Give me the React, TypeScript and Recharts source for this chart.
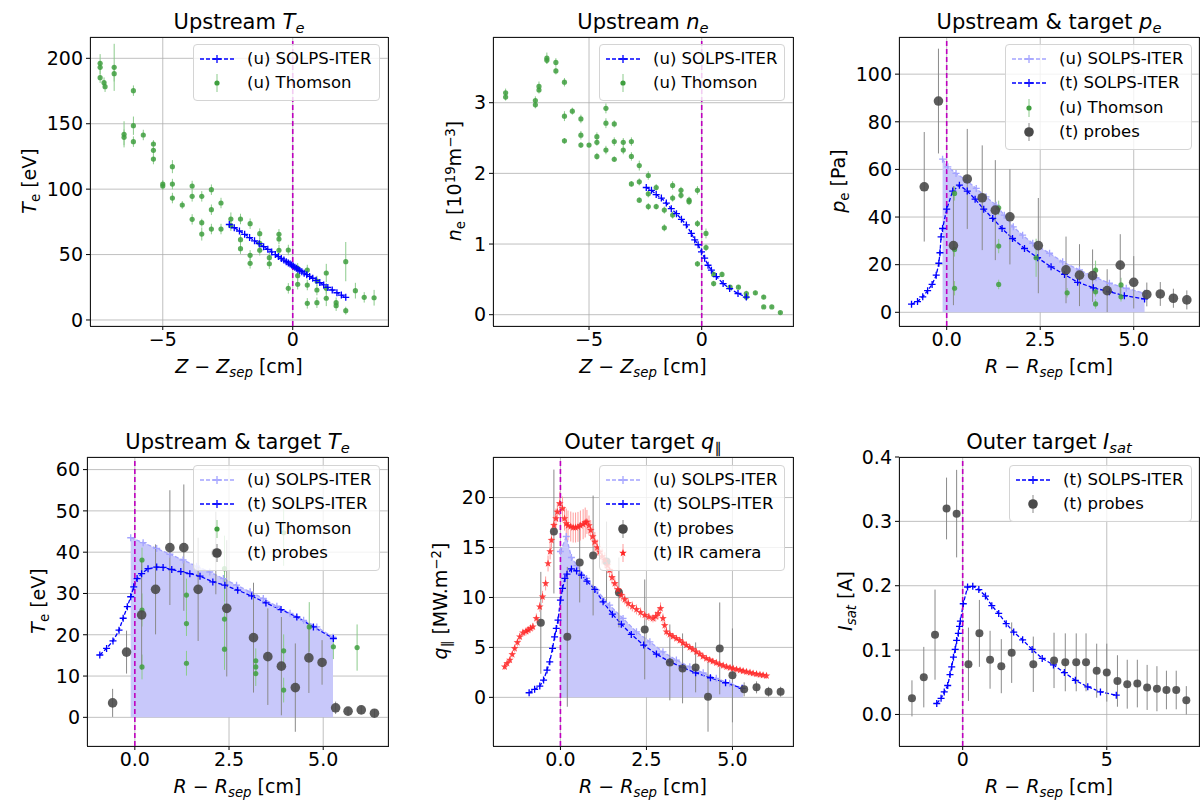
import React from 'react';
import {
  ComposedChart,
  Line,
  Scatter,
  Area,
  XAxis,
  YAxis,
  CartesianGrid,
  ReferenceLine,
  ErrorBar,
} from 'recharts';

// ---- data (x, y[, err]) ----

// Upstream Te
const upTeSolps = [
  [-2.44, 73], [-2.25, 70.5], [-2.05, 68], [-1.85, 65.5], [-1.66, 63], [-1.47, 60.5], [-1.29, 58.3],
  [-1.12, 56], [-0.96, 54], [-0.81, 52], [-0.67, 50], [-0.55, 48.5], [-0.44, 47], [-0.34, 45.8],
  [-0.25, 44.6], [-0.17, 43.6], [-0.1, 42.7], [-0.04, 42], [0.02, 41.2], [0.08, 40.4], [0.14, 39.6],
  [0.2, 38.8], [0.27, 37.9], [0.35, 36.9], [0.44, 35.8], [0.54, 34.6], [0.65, 33.3], [0.77, 31.9],
  [0.9, 30.3], [1.04, 28.6], [1.19, 26.8], [1.35, 24.9], [1.52, 22.9], [1.7, 20.8], [1.87, 19], [2.04, 17.3],
];
const upTeThomson = [
  [-7.41, 196.2, 7], [-7.41, 193.1, 5], [-7.41, 185.2, 4], [-7.26, 181.4, 4], [-7.22, 178.3, 4],
  [-6.87, 193.1, 18], [-6.87, 188.3, 6], [-6.13, 175.3, 4], [-6.49, 141.9, 10], [-6.49, 139.6, 6],
  [-6.13, 148.5, 7], [-6.13, 136.3, 4], [-5.75, 141.4, 4], [-5.36, 134.5, 3], [-5.36, 129.7, 3],
  [-5.36, 123.0, 4], [-5.0, 103.9, 3], [-5.0, 102.4, 3], [-4.63, 117.2, 5], [-4.63, 103.9, 4],
  [-4.63, 93.2, 4], [-4.25, 87.9, 3], [-3.87, 102.4, 4], [-3.87, 94.5, 4], [-3.87, 76.9, 4],
  [-3.5, 94.5, 4], [-3.5, 74.4, 3], [-3.5, 65.7, 5], [-3.13, 99.6, 4], [-3.13, 84.3, 4],
  [-3.13, 69.5, 4], [-2.76, 89.4, 4], [-2.76, 69.5, 4], [-2.38, 77.2, 5], [-2.38, 72.1, 4],
  [-2.01, 77.2, 4], [-2.01, 61.4, 4], [-2.01, 54.5, 4], [-1.64, 73.6, 4], [-1.64, 49.4, 4],
  [-1.64, 43.3, 4], [-1.27, 66.0, 4], [-1.27, 58.6, 4], [-1.27, 53.3, 4], [-0.9, 47.6, 4],
  [-0.9, 43.0, 4], [-0.53, 65.5, 4], [-0.53, 61.9, 4], [-0.53, 53.3, 4], [-0.17, 53.5, 4],
  [-0.17, 24.2, 4], [0.19, 39.5, 4], [0.19, 33.9, 4], [0.19, 27.3, 4], [0.56, 38.2, 4],
  [0.56, 26.7, 4], [0.56, 12.7, 4], [0.93, 29.8, 4], [0.93, 22.9, 4], [0.93, 13.2, 4],
  [1.29, 35.9, 7], [1.29, 24.2, 4], [1.29, 16.6, 6], [1.67, 13.2, 4], [1.67, 10.9, 4],
  [2.04, 44.6, 15], [2.04, 7.1, 3], [2.41, 22.4, 6], [2.75, 17.3, 4], [3.13, 17, 6],
];

// Upstream ne
const upNeSolps = [
  [-2.46, 1.8], [-2.23, 1.76], [-2.02, 1.7], [-1.79, 1.65], [-1.57, 1.58], [-1.35, 1.5], [-1.12, 1.43],
  [-0.9, 1.35], [-0.68, 1.27], [-0.46, 1.15], [-0.31, 1.06], [-0.16, 0.99], [-0.01, 0.89], [0.13, 0.8],
  [0.28, 0.7], [0.43, 0.63], [0.65, 0.54], [0.95, 0.44], [1.24, 0.37], [1.61, 0.3], [1.98, 0.25],
];
const upNeThomson = [
  [-8.7, 3.14, 0.06], [-8.7, 3.08, 0.05], [-7.38, 3.03, 0.06], [-7.38, 2.97, 0.05], [-7.22, 3.23, 0.07],
  [-7.22, 3.18, 0.05], [-6.87, 3.63, 0.08], [-6.87, 3.6, 0.05], [-6.47, 3.57, 0.06], [-6.47, 3.45, 0.05],
  [-6.09, 3.29, 0.06], [-6.09, 2.81, 0.07], [-6.09, 2.46, 0.04], [-5.74, 2.88, 0.05], [-5.36, 2.77, 0.06],
  [-5.36, 2.54, 0.06], [-5.36, 2.4, 0.04], [-5.0, 2.4, 0.03], [-4.65, 2.52, 0.06], [-4.65, 2.44, 0.05],
  [-4.65, 2.24, 0.05], [-4.25, 2.92, 0.07], [-4.25, 2.71, 0.07], [-4.25, 2.33, 0.06], [-3.88, 2.7, 0.05],
  [-3.88, 2.45, 0.06], [-3.88, 2.2, 0.04], [-3.48, 2.44, 0.06], [-3.48, 2.33, 0.06], [-3.12, 2.45, 0.06],
  [-3.12, 2.24, 0.06], [-2.77, 2.11, 0.07], [-3.12, 1.85, 0.04], [-2.77, 1.88, 0.05], [-2.77, 1.62, 0.04],
  [-2.37, 1.97, 0.06], [-2.37, 1.71, 0.05], [-2.37, 1.53, 0.05], [-2.02, 1.8, 0.05], [-2.02, 1.53, 0.04],
  [-1.66, 1.48, 0.05], [-1.66, 1.23, 0.05], [-1.29, 1.83, 0.06], [-1.29, 1.65, 0.05], [-1.29, 1.41, 0.05],
  [-0.92, 1.76, 0.05], [-0.92, 1.69, 0.05], [-0.56, 1.62, 0.05], [-0.56, 1.6, 0.05], [-0.19, 1.76, 0.06],
  [-0.19, 1.29, 0.05], [-0.19, 0.72, 0.04], [0.19, 1.15, 0.07], [0.19, 0.95, 0.05], [0.53, 0.57, 0.04],
  [0.53, 0.44, 0.04], [0.9, 0.57, 0.04], [1.26, 0.39, 0.03], [1.63, 0.39, 0.03], [1.98, 0.3, 0.04],
  [1.98, 0.25, 0.03], [2.38, 0.31, 0.03], [2.75, 0.25, 0.03], [2.75, 0.11, 0.02], [3.11, 0.11, 0.02],
  [3.49, 0.03, 0.02],
];

// Upstream & target pe
const peUpSolps = [
  [-0.11, 64.3], [0.03, 61.1], [0.25, 58.3], [0.52, 55.5], [0.79, 52.0], [1.05, 48.5], [1.32, 45.0],
  [1.54, 40.8], [1.78, 35.9], [2.03, 32.4], [2.3, 29.0], [2.75, 24.8], [3.1, 21.2], [3.55, 17.8],
  [3.99, 14.5], [4.35, 12.2], [4.8, 10.1], [5.29, 8.0],
];
const peTgtSolps = [
  [-0.94, 3.4], [-0.78, 4.5], [-0.64, 6.5], [-0.51, 9.1], [-0.39, 11.7], [-0.28, 15.6], [-0.21, 20.6],
  [-0.18, 25.0], [-0.15, 31.7], [-0.11, 35.2], [0.0, 43.3], [0.16, 50.9], [0.34, 53.4], [0.55, 50.9],
  [0.76, 47.5], [0.99, 43.3], [1.23, 39.4], [1.48, 35.2], [1.76, 31.0], [2.08, 26.8], [2.43, 22.9],
  [2.79, 19.1], [3.15, 15.9], [3.5, 12.6], [3.92, 10.3], [4.35, 8.6], [4.75, 7.0], [5.29, 5.6],
];
const peThomson = [
  [0.21, 49.9, 3], [0.21, 26.4, 3], [0.21, 10.1, 3], [1.39, 43.9, 3], [1.39, 27.8, 3], [1.39, 11.7, 2],
  [2.39, 22.9, 8], [3.22, 8.2, 2], [3.98, 17.7, 4], [3.98, 8.6, 2], [3.98, 3.5, 2], [4.66, 11.5, 3],
  [4.66, 6.5, 2],
];
const peProbes = [
  [-0.6, 52.7, 23], [-0.22, 88.7, 22], [0.18, 28, 25], [0.55, 56, 21], [0.95, 48.1, 22], [1.3, 42.9, 21],
  [1.69, 40.1, 20], [2.45, 28, 20], [3.19, 17.8, 14], [3.55, 15.6, 13], [3.9, 15.4, 11], [4.29, 9.1, 9],
  [4.64, 19.8, 13], [5.0, 12.6, 11], [5.35, 7.5, 5], [5.71, 7.7, 5], [6.06, 5.9, 4], [6.42, 5.2, 4],
];

// Upstream & target Te
const teUpSolps = [
  [-0.11, 43.5], [0.22, 42.3], [0.58, 40.9], [0.93, 39.5], [1.28, 38.1], [1.64, 36.6], [1.99, 35.2],
  [2.35, 33.6], [2.7, 32.0], [3.06, 30.4], [3.41, 28.8], [3.77, 26.9], [4.12, 25.2], [4.48, 23.5],
  [4.83, 21.9], [5.26, 19.4],
];
const teTgtSolps = [
  [-0.93, 15.1], [-0.75, 16.7], [-0.58, 18.5], [-0.42, 21.1], [-0.31, 24.0], [-0.2, 26.8], [-0.11, 29.2],
  [-0.03, 31.6], [0.06, 33.6], [0.18, 34.8], [0.35, 36.0], [0.58, 36.4], [0.75, 36.3], [0.98, 35.8],
  [1.22, 35.3], [1.46, 34.8], [1.73, 34.2], [2.07, 32.8], [2.39, 32.0], [2.73, 30.8], [3.1, 29.4],
  [3.48, 27.7], [3.88, 26.1], [4.3, 24.3], [4.74, 21.9], [5.27, 19.1],
];
const teThomson = [
  [0.19, 38.1, 3], [0.19, 26.0, 4], [0.19, 12.2, 3], [1.37, 29.6, 4], [1.37, 22.7, 3], [1.37, 13.1, 3],
  [2.38, 36.0, 8], [2.38, 23.8, 4], [2.38, 16.5, 5], [3.21, 13.7, 3], [3.21, 12.2, 2], [3.21, 10.6, 3],
  [3.95, 44.7, 8], [3.95, 16.1, 4], [3.95, 6.6, 3], [4.63, 21.9, 6], [5.27, 17.1, 3], [5.9, 16.9, 5.6],
];
const teProbes = [
  [-0.59, 3.5, 3.4], [-0.22, 15.8, 5.2], [0.18, 24.8, 13.3], [0.55, 31.0, 10.9], [0.93, 41.1, 13.9],
  [1.3, 41.1, 15.3], [1.68, 31.0, 12.5], [2.15, 39.8, 10], [2.44, 26.4, 16.5], [3.15, 19.3, 13.3],
  [3.53, 14.7, 11.7], [3.89, 12.4, 11.9], [4.26, 7.2, 10.7], [4.62, 14.4, 8.5], [4.97, 13.3, 5.4],
  [5.33, 2.3, 1.5], [5.66, 1.5, 1], [6.01, 1.8, 1], [6.36, 1.0, 1],
];

// Outer target q_par
const qUpSolps = [
  [0.0, 14.6], [0.17, 16.1], [0.32, 14.0], [0.48, 13.2], [0.76, 11.9], [1.05, 10.73], [1.43, 9.23],
  [1.82, 7.9], [2.21, 6.56], [2.6, 5.56], [2.98, 4.56], [3.37, 3.73], [3.76, 3.06], [4.15, 2.46],
  [4.53, 1.9], [4.92, 1.4], [5.31, 0.9],
];
const qTgtSolps = [
  [-0.91, 0.46], [-0.75, 0.8], [-0.6, 1.13], [-0.49, 1.73], [-0.39, 2.73], [-0.31, 3.56], [-0.23, 4.9],
  [-0.17, 6.06], [-0.12, 6.9], [-0.07, 7.73], [0.0, 9.73], [0.06, 10.9], [0.13, 11.9], [0.19, 12.33],
  [0.32, 12.86], [0.47, 12.66], [0.61, 12.23], [0.77, 11.63], [1.0, 10.8], [1.24, 9.56], [1.51, 8.33],
  [1.77, 7.33], [2.06, 6.3], [2.42, 5.23], [2.79, 4.33], [3.18, 3.56], [3.55, 3.0], [3.93, 2.46],
  [4.36, 1.96], [4.8, 1.46], [5.28, 0.9],
];
const qProbes = [
  [-0.57, 7.46, 5.1], [-0.19, 16.6, 6.2], [0.2, 6.06, 7], [0.56, 13.5, 4], [0.95, 14.2, 6], [1.34, 13.6, 4],
  [1.7, 10.5, 3.5], [2.45, 6.8, 5], [3.18, 3.5, 3.8], [3.55, 2.9, 3.5], [3.93, 3.0, 2.5], [4.29, 0.06, 3.5],
  [4.63, 4.9, 4.6], [5.0, 2.2, 4.7], [5.34, 0.8, 0.7], [5.7, 1.0, 0.6], [6.05, 0.56, 0.5], [6.4, 0.56, 0.5],
];
const qIrCamera = [
  [-1.62, 3.06, 0.3], [-1.55, 3.4, 0.3], [-1.47, 3.73, 0.3], [-1.4, 4.3, 0.3], [-1.33, 4.9, 0.4],
  [-1.25, 5.5, 0.4], [-1.18, 6.06, 0.4], [-1.09, 6.46, 0.4], [-1.0, 6.6, 0.4], [-0.94, 6.73, 0.4],
  [-0.87, 6.9, 0.4], [-0.8, 7.06, 0.4], [-0.7, 7.9, 0.5], [-0.6, 9.06, 0.5], [-0.52, 10.06, 0.6],
  [-0.43, 11.4, 0.7], [-0.36, 13.4, 0.8], [-0.3, 14.6, 0.8], [-0.26, 15.73, 0.9], [-0.19, 17.23, 1],
  [-0.13, 17.9, 1], [-0.09, 18.56, 1], [-0.02, 19.4, 1.2], [0.06, 18.9, 1.2], [0.12, 17.9, 1.2],
  [0.17, 17.4, 1.5], [0.22, 17.2, 1.5], [0.3, 17.1, 1.5], [0.37, 17.0, 1.5], [0.44, 17.0, 1.5],
  [0.51, 17.06, 1.5], [0.58, 17.2, 1.5], [0.66, 17.33, 1.5], [0.72, 17.5, 1.5], [0.77, 17.56, 1.2],
  [0.83, 17.2, 1], [0.88, 16.73, 1], [0.94, 16.1, 1], [1.0, 15.56, 1], [1.07, 15.0, 0.8],
  [1.14, 14.56, 0.8], [1.21, 14.1, 0.8], [1.29, 13.73, 0.8], [1.36, 13.2, 0.7], [1.43, 12.73, 0.7],
  [1.5, 12.0, 0.7], [1.58, 11.4, 0.6], [1.67, 10.8, 0.6], [1.77, 10.23, 0.6], [1.87, 9.8, 0.5],
  [1.97, 9.4, 0.5], [2.09, 9.1, 0.5], [2.21, 8.8, 0.5], [2.33, 8.5, 0.5], [2.45, 8.23, 0.5],
  [2.57, 8.05, 0.4], [2.69, 7.9, 0.4], [2.77, 8.1, 0.5], [2.84, 8.4, 0.6], [2.91, 8.9, 0.6],
  [2.98, 7.9, 0.5], [3.03, 7.2, 0.4], [3.08, 6.56, 0.4], [3.18, 6.3, 0.4], [3.27, 6.1, 0.3],
  [3.37, 5.9, 0.3], [3.47, 5.7, 0.3], [3.56, 5.45, 0.3], [3.66, 5.23, 0.3], [3.76, 5.0, 0.3],
  [3.85, 4.8, 0.3], [3.95, 4.56, 0.3], [4.05, 4.35, 0.3], [4.14, 4.1, 0.3], [4.24, 3.9, 0.3],
  [4.34, 3.75, 0.3], [4.43, 3.6, 0.3], [4.53, 3.46, 0.3], [4.63, 3.3, 0.3], [4.73, 3.18, 0.3],
  [4.83, 3.06, 0.3], [4.93, 2.97, 0.3], [5.02, 2.88, 0.3], [5.12, 2.8, 0.3], [5.22, 2.72, 0.3],
  [5.31, 2.64, 0.3], [5.41, 2.56, 0.3], [5.51, 2.48, 0.3], [5.6, 2.4, 0.3], [5.7, 2.33, 0.3],
  [5.8, 2.27, 0.3], [5.89, 2.22, 0.3], [5.99, 2.16, 0.3],
];

// Outer target Isat
const isatSolps = [
  [-0.9, 0.017], [-0.75, 0.025], [-0.64, 0.035], [-0.52, 0.045], [-0.44, 0.062], [-0.38, 0.074],
  [-0.32, 0.089], [-0.26, 0.101], [-0.21, 0.115], [-0.15, 0.126], [-0.11, 0.137], [-0.08, 0.145],
  [0.02, 0.172], [0.17, 0.198], [0.35, 0.199], [0.56, 0.194], [0.79, 0.184], [1.01, 0.169],
  [1.25, 0.157], [1.51, 0.141], [1.77, 0.128], [2.08, 0.116], [2.41, 0.101], [2.76, 0.087],
  [3.15, 0.077], [3.53, 0.065], [3.91, 0.053], [4.34, 0.043], [4.78, 0.035], [5.33, 0.03],
];
const isatProbes = [
  [-1.76, 0.025, 0.028], [-1.35, 0.058, 0.047], [-0.96, 0.124, 0.07], [-0.56, 0.32, 0.048],
  [-0.21, 0.312, 0.068], [0.2, 0.078, 0.057], [0.58, 0.126, 0.052], [0.95, 0.085, 0.045],
  [1.34, 0.075, 0.042], [1.7, 0.096, 0.047], [2.45, 0.078, 0.043], [3.17, 0.084, 0.043],
  [3.56, 0.081, 0.045], [3.94, 0.081, 0.045], [4.28, 0.081, 0.045], [4.65, 0.068, 0.042],
  [5.0, 0.065, 0.045], [5.37, 0.052, 0.04], [5.71, 0.047, 0.038], [6.06, 0.048, 0.037],
  [6.4, 0.042, 0.035], [6.74, 0.04, 0.035], [7.07, 0.038, 0.03], [7.41, 0.038, 0.03], [7.76, 0.022, 0.022],
];

// tick values
const zTicks = [-5, 0];
const rTicks = [0, 2.5, 5];
const rTicksWide = [0, 5];
const teUpTicks = [0, 50, 100, 150, 200];
const neTicks = [0, 1, 2, 3];
const peTicks = [0, 20, 40, 60, 80, 100];
const teTicks = [0, 10, 20, 30, 40, 50, 60];
const qTicks = [0, 5, 10, 15, 20];
const isatTicks = [0, 0.1, 0.2, 0.3, 0.4];

// ---- styling ----
const FONT = '"DejaVu Sans", sans-serif';
const BLUE = '#0000ff';
const LIGHT = '#a4a4ff';
const FILL = '#c8c8fa';
const GREEN = '#3f9f3f';
const GREEN_BAR = '#8ccb8c';
const PROBE = '#4a4a4a';
const PROBE_BAR = '#8a8a8a';
const RED = '#ff2424';
const RED_BAR = '#ff9c9c';
const MAGENTA = '#bf00bf';

const pts = (rows: number[][]) => rows.map(([x, y, err]) => ({ x, y, err: err ?? 0 }));

const minus = (s: string) => s.replace('-', '\u2212');
const fmtInt = (v: number) => minus(String(v));
const fmt1 = (v: number) => minus(v.toFixed(1));

const plusDot = (color: string, s = 3.5) => (p: any) => {
  if (p.cx == null || p.cy == null || isNaN(p.cx) || isNaN(p.cy)) return <g key={p.index} />;
  return (
    <path
      key={p.index}
      d={`M${p.cx - s},${p.cy}H${p.cx + s}M${p.cx},${p.cy - s}V${p.cy + s}`}
      stroke={color}
      strokeWidth={1.3}
      fill="none"
    />
  );
};

const circleShape = (r: number, fill: string, op = 1) => (p: any) => (
  <circle cx={p.cx} cy={p.cy} r={r} fill={fill} fillOpacity={op} />
);

const starPath = (cx: number, cy: number, R: number) => {
  let d = '';
  for (let i = 0; i < 10; i++) {
    const r = i % 2 === 0 ? R : R * 0.42;
    const a = -Math.PI / 2 + (i * Math.PI) / 5;
    d += (i ? 'L' : 'M') + (cx + r * Math.cos(a)).toFixed(2) + ',' + (cy + r * Math.sin(a)).toFixed(2);
  }
  return d + 'Z';
};
const starShape = (R: number, fill: string) => (p: any) => (
  <path d={starPath(p.cx, p.cy, R)} fill={fill} fillOpacity={0.85} />
);

interface Frame {
  left: number;
  top: number;
  width: number;
  height: number;
}

const YW = 60;
const MT = 14;
const MR = 6;
const XH = 34;
const tickStyle = { fill: '#000', fontSize: 19, fontFamily: FONT };

function Panel(props: {
  frame: Frame;
  xDomain: [number, number];
  yDomain: [number, number];
  xTicks: number[];
  yTicks: number[];
  fmtX: (v: number) => string;
  fmtY: (v: number) => string;
  children: React.ReactNode;
}) {
  const { frame, xDomain, yDomain, xTicks, yTicks, fmtX, fmtY, children } = props;
  return (
    <div style={{ position: 'absolute', left: frame.left - YW, top: frame.top - MT }}>
      <ComposedChart
        width={frame.width + YW + MR}
        height={frame.height + MT + XH}
        margin={{ top: MT, right: MR, bottom: 0, left: 0 }}
      >
        <CartesianGrid stroke="#b0b0b0" strokeWidth={0.8} />
        <XAxis
          type="number"
          dataKey="x"
          domain={xDomain}
          ticks={xTicks}
          interval={0}
          allowDataOverflow
          height={XH}
          axisLine={false}
          tickLine={{ stroke: '#000' }}
          tickSize={4}
          tickMargin={3}
          tick={tickStyle}
          tickFormatter={fmtX}
        />
        <YAxis
          type="number"
          domain={yDomain}
          ticks={yTicks}
          interval={0}
          allowDataOverflow
          width={YW}
          axisLine={false}
          tickLine={{ stroke: '#000' }}
          tickSize={4}
          tickMargin={3}
          tick={tickStyle}
          tickFormatter={fmtY}
        />
        {children}
        <ReferenceLine x={0} stroke={MAGENTA} strokeWidth={1.6} strokeDasharray="5 3" />
      </ComposedChart>
    </div>
  );
}

const Sub = ({ children }: { children: React.ReactNode }) => (
  <span style={{ fontSize: '0.7em', position: 'relative', top: '0.3em', lineHeight: 0 }}>{children}</span>
);
const Sup = ({ children }: { children: React.ReactNode }) => (
  <span style={{ fontSize: '0.7em', position: 'relative', top: '-0.45em', lineHeight: 0 }}>{children}</span>
);

function Title({ frame, children }: { frame: Frame; children: React.ReactNode }) {
  return (
    <div
      style={{
        position: 'absolute',
        left: frame.left,
        width: frame.width,
        top: frame.top - 25,
        textAlign: 'center',
        fontSize: 21,
        lineHeight: '21px',
        whiteSpace: 'nowrap',
      }}
    >
      {children}
    </div>
  );
}

function XLabel({ frame, children }: { frame: Frame; children: React.ReactNode }) {
  return (
    <div
      style={{
        position: 'absolute',
        left: frame.left,
        width: frame.width,
        top: frame.top + frame.height + 31,
        textAlign: 'center',
        fontSize: 19,
        lineHeight: '19px',
        whiteSpace: 'nowrap',
      }}
    >
      {children}
    </div>
  );
}

function YLabel({ cx, cy, children }: { cx: number; cy: number; children: React.ReactNode }) {
  return (
    <div
      style={{
        position: 'absolute',
        left: cx,
        top: cy,
        transform: 'translate(-50%, -50%) rotate(-90deg)',
        fontSize: 19,
        lineHeight: '22px',
        whiteSpace: 'nowrap',
      }}
    >
      {children}
    </div>
  );
}

function FrameBox({ frame }: { frame: Frame }) {
  return (
    <div
      style={{
        position: 'absolute',
        left: frame.left,
        top: frame.top,
        width: frame.width + 1,
        height: frame.height + 1,
        boxSizing: 'border-box',
        border: '1px solid #1a1a1a',
        pointerEvents: 'none',
      }}
    />
  );
}

function HandleIcon({ kind }: { kind: string }) {
  const c = 17;
  const m = 12;
  if (kind === 'solps' || kind === 'light') {
    const col = kind === 'solps' ? BLUE : LIGHT;
    return (
      <svg width={36} height={24}>
        <line x1={0} y1={m} x2={34} y2={m} stroke={col} strokeWidth={1.3} strokeDasharray="4 2" />
        <path d={`M${c - 4},${m}H${c + 4}M${c},${m - 4}V${m + 4}`} stroke={col} strokeWidth={1.3} />
      </svg>
    );
  }
  if (kind === 'thomson') {
    return (
      <svg width={36} height={24}>
        <line x1={c} y1={3} x2={c} y2={21} stroke={GREEN_BAR} strokeWidth={1} />
        <circle cx={c} cy={m} r={2.6} fill={GREEN} />
      </svg>
    );
  }
  if (kind === 'ir') {
    return (
      <svg width={36} height={24}>
        <line x1={c} y1={3} x2={c} y2={21} stroke={RED_BAR} strokeWidth={1} />
        <path d={starPath(c, m, 4)} fill={RED} />
      </svg>
    );
  }
  return (
    <svg width={36} height={24}>
      <line x1={c} y1={3} x2={c} y2={21} stroke={PROBE_BAR} strokeWidth={1} />
      <circle cx={c} cy={m} r={4.8} fill={PROBE} />
    </svg>
  );
}

function LegendBox(props: { left: number; top: number; width: number; rows: [string, string][] }) {
  const { left, top, width, rows } = props;
  const height = 8 + rows.length * 24.4;
  return (
    <div
      style={{
        position: 'absolute',
        left,
        top,
        width,
        height,
        boxSizing: 'border-box',
        background: 'rgba(255,255,255,0.8)',
        border: '1px solid #d4d4d4',
        borderRadius: 4,
      }}
    >
      {rows.map(([kind, label], i) => (
        <div key={i} style={{ position: 'absolute', left: 6, top: 2 + i * 24.4, height: 24 }}>
          <HandleIcon kind={kind} />
          <span
            style={{
              position: 'absolute',
              left: 47,
              top: 2,
              fontSize: 16.5,
              lineHeight: '20px',
              whiteSpace: 'nowrap',
            }}
          >
            {label}
          </span>
        </div>
      ))}
    </div>
  );
}

const f1: Frame = { left: 90, top: 37, width: 298, height: 289 };
const f2: Frame = { left: 493, top: 37, width: 300, height: 289 };
const f3: Frame = { left: 899, top: 37, width: 300, height: 289 };
const f4: Frame = { left: 87, top: 457, width: 301, height: 289 };
const f5: Frame = { left: 493, top: 457, width: 300, height: 289 };
const f6: Frame = { left: 899, top: 457, width: 300, height: 289 };

const solpsLine = (rows: number[][], color: string, key: string) => (
  <Line
    key={key}
    data={pts(rows)}
    dataKey="y"
    type="linear"
    stroke={color}
    strokeWidth={1.3}
    strokeDasharray="4 2"
    dot={plusDot(color)}
    activeDot={false}
    legendType="none"
    isAnimationActive={false}
  />
);

const fillArea = (rows: number[][], key: string) => (
  <Area
    key={key}
    data={pts(rows)}
    dataKey="y"
    type="linear"
    stroke="none"
    fill={FILL}
    fillOpacity={1}
    baseValue={0}
    dot={false}
    activeDot={false}
    legendType="none"
    isAnimationActive={false}
  />
);

const errScatter = (
  rows: number[][],
  shape: (p: any) => React.ReactElement,
  barColor: string,
  key: string,
) => (
  <Scatter key={key} data={pts(rows)} dataKey="y" shape={shape} legendType="none" isAnimationActive={false}>
    <ErrorBar dataKey="err" direction="y" width={0} stroke={barColor} strokeWidth={1} isAnimationActive={false} />
  </Scatter>
);

const ZLabel = () => (
  <>
    <i>Z</i> − <i>Z</i>
    <Sub>
      <i>sep</i>
    </Sub>{' '}
    [cm]
  </>
);
const RLabel = () => (
  <>
    <i>R</i> − <i>R</i>
    <Sub>
      <i>sep</i>
    </Sub>{' '}
    [cm]
  </>
);

export default function App() {
  return (
    <div
      style={{
        position: 'absolute',
        left: 0,
        top: 0,
        width: 1201,
        height: 801,
        overflow: 'hidden',
        background: '#fff',
        fontFamily: FONT,
        color: '#000',
      }}
    >
      <Panel frame={f1} xDomain={[-7.8, 3.665]} yDomain={[-4.6, 216.3]} xTicks={zTicks} yTicks={teUpTicks} fmtX={fmtInt} fmtY={fmtInt}>
        {errScatter(upTeThomson, circleShape(2.6, GREEN, 0.85), GREEN_BAR, 'th')}
        {solpsLine(upTeSolps, BLUE, 'sol')}
      </Panel>
      <Panel frame={f2} xDomain={[-9.26, 4.05]} yDomain={[-0.16, 3.93]} xTicks={zTicks} yTicks={neTicks} fmtX={fmtInt} fmtY={fmtInt}>
        {errScatter(upNeThomson, circleShape(2.6, GREEN, 0.85), GREEN_BAR, 'th')}
        {solpsLine(upNeSolps, BLUE, 'sol')}
      </Panel>
      <Panel frame={f3} xDomain={[-1.275, 6.745]} yDomain={[-5.75, 115.6]} xTicks={rTicks} yTicks={peTicks} fmtX={fmt1} fmtY={fmtInt}>
        {fillArea(peUpSolps, 'fill')}
        {solpsLine(peUpSolps, LIGHT, 'up')}
        {solpsLine(peTgtSolps, BLUE, 'tgt')}
        {errScatter(peThomson, circleShape(2.6, GREEN, 0.85), GREEN_BAR, 'th')}
        {errScatter(peProbes, circleShape(4.8, PROBE, 0.9), PROBE_BAR, 'pr')}
      </Panel>
      <Panel frame={f4} xDomain={[-1.27, 6.72]} yDomain={[-6.94, 63.05]} xTicks={rTicks} yTicks={teTicks} fmtX={fmt1} fmtY={fmtInt}>
        {fillArea(teUpSolps, 'fill')}
        {solpsLine(teUpSolps, LIGHT, 'up')}
        {solpsLine(teTgtSolps, BLUE, 'tgt')}
        {errScatter(teThomson, circleShape(2.6, GREEN, 0.85), GREEN_BAR, 'th')}
        {errScatter(teProbes, circleShape(4.8, PROBE, 0.9), PROBE_BAR, 'pr')}
      </Panel>
      <Panel frame={f5} xDomain={[-1.96, 6.76]} yDomain={[-4.87, 24.06]} xTicks={rTicks} yTicks={qTicks} fmtX={fmt1} fmtY={fmtInt}>
        {fillArea(qUpSolps, 'fill')}
        {solpsLine(qUpSolps, LIGHT, 'up')}
        {solpsLine(qTgtSolps, BLUE, 'tgt')}
        {errScatter(qProbes, circleShape(4, PROBE, 0.9), PROBE_BAR, 'pr')}
        {errScatter(qIrCamera, starShape(4, RED), RED_BAR, 'ir')}
      </Panel>
      <Panel frame={f6} xDomain={[-2.21, 8.2]} yDomain={[-0.049, 0.4]} xTicks={rTicksWide} yTicks={isatTicks} fmtX={fmtInt} fmtY={fmt1}>
        {solpsLine(isatSolps, BLUE, 'tgt')}
        {errScatter(isatProbes, circleShape(4, PROBE, 0.9), PROBE_BAR, 'pr')}
      </Panel>

      {[f1, f2, f3, f4, f5, f6].map((f, i) => (
        <FrameBox key={i} frame={f} />
      ))}

      <LegendBox left={193} top={44} width={187} rows={[['solps', '(u) SOLPS-ITER'], ['thomson', '(u) Thomson']]} />
      <LegendBox left={599} top={44} width={186} rows={[['solps', '(u) SOLPS-ITER'], ['thomson', '(u) Thomson']]} />
      <LegendBox
        left={1005}
        top={44}
        width={187}
        rows={[['light', '(u) SOLPS-ITER'], ['solps', '(t) SOLPS-ITER'], ['thomson', '(u) Thomson'], ['probe', '(t) probes']]}
      />
      <LegendBox
        left={193}
        top={465}
        width={187}
        rows={[['light', '(u) SOLPS-ITER'], ['solps', '(t) SOLPS-ITER'], ['thomson', '(u) Thomson'], ['probe', '(t) probes']]}
      />
      <LegendBox
        left={599}
        top={465}
        width={186}
        rows={[['light', '(u) SOLPS-ITER'], ['solps', '(t) SOLPS-ITER'], ['probe', '(t) probes'], ['ir', '(t) IR camera']]}
      />
      <LegendBox left={1009} top={465} width={183} rows={[['solps', '(t) SOLPS-ITER'], ['probe', '(t) probes']]} />

      <Title frame={f1}>
        Upstream <i>T</i>
        <Sub>
          <i>e</i>
        </Sub>
      </Title>
      <Title frame={f2}>
        Upstream <i>n</i>
        <Sub>
          <i>e</i>
        </Sub>
      </Title>
      <Title frame={f3}>
        Upstream &amp; target <i>p</i>
        <Sub>
          <i>e</i>
        </Sub>
      </Title>
      <Title frame={f4}>
        Upstream &amp; target <i>T</i>
        <Sub>
          <i>e</i>
        </Sub>
      </Title>
      <Title frame={f5}>
        Outer target <i>q</i>
        <Sub>∥</Sub>
      </Title>
      <Title frame={f6}>
        Outer target <i>I</i>
        <Sub>
          <i>sat</i>
        </Sub>
      </Title>

      <XLabel frame={f1}>
        <ZLabel />
      </XLabel>
      <XLabel frame={f2}>
        <ZLabel />
      </XLabel>
      <XLabel frame={f3}>
        <RLabel />
      </XLabel>
      <XLabel frame={f4}>
        <RLabel />
      </XLabel>
      <XLabel frame={f5}>
        <RLabel />
      </XLabel>
      <XLabel frame={f6}>
        <RLabel />
      </XLabel>

      <YLabel cx={29} cy={181}>
        <i>T</i>
        <Sub>e</Sub> [eV]
      </YLabel>
      <YLabel cx={454} cy={181}>
        <i>n</i>
        <Sub>e</Sub> [10<Sup>19</Sup>m<Sup>−3</Sup>]
      </YLabel>
      <YLabel cx={838} cy={181}>
        <i>p</i>
        <Sub>e</Sub> [Pa]
      </YLabel>
      <YLabel cx={38} cy={601}>
        <i>T</i>
        <Sub>e</Sub> [eV]
      </YLabel>
      <YLabel cx={440} cy={601}>
        <i>q</i>
        <Sub>∥</Sub> [MW.m<Sup>−2</Sup>]
      </YLabel>
      <YLabel cx={845} cy={601}>
        <i>I</i>
        <Sub>
          <i>sat</i>
        </Sub>{' '}
        [A]
      </YLabel>
    </div>
  );
}
